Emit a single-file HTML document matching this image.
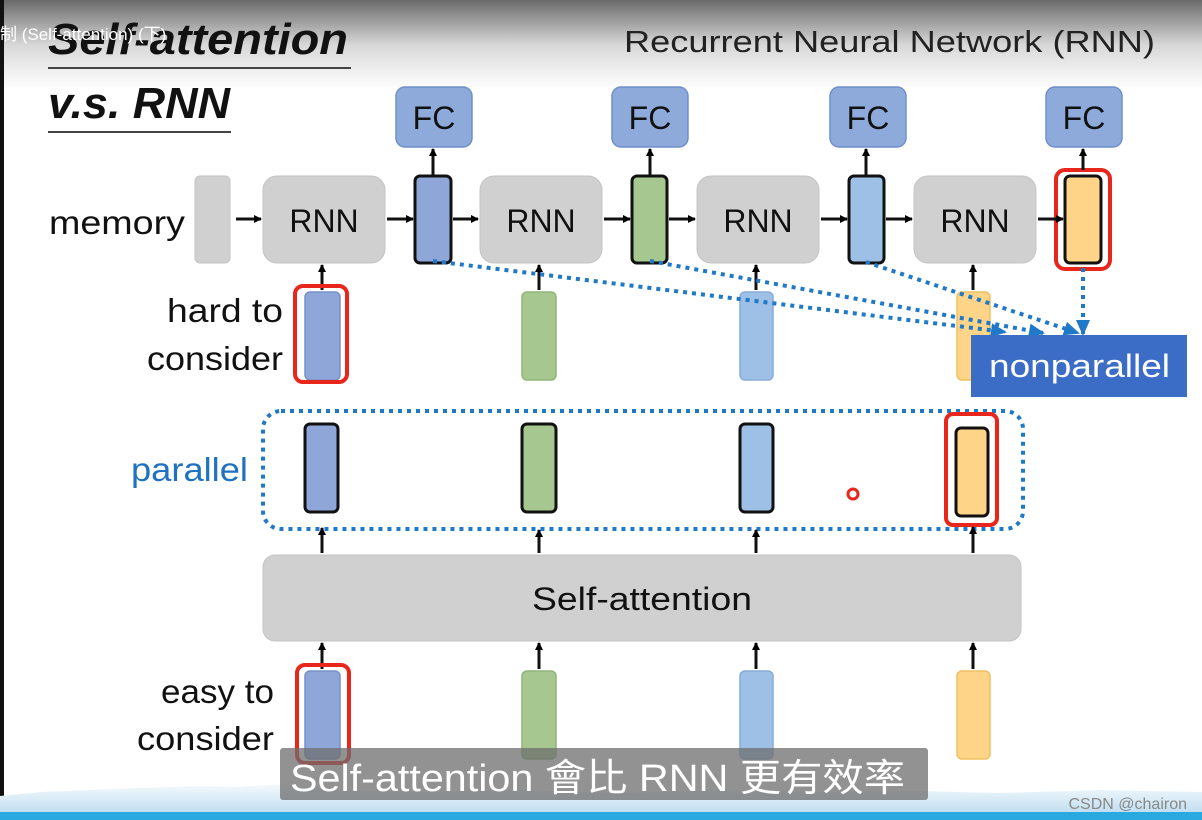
<!DOCTYPE html>
<html><head><meta charset="utf-8"><style>
html,body{margin:0;padding:0;width:1202px;height:820px;overflow:hidden;background:#fff}
text{font-family:"Liberation Sans","Noto Sans CJK TC",sans-serif}
</style></head><body>
<svg width="1202" height="820" viewBox="0 0 1202 820" xmlns="http://www.w3.org/2000/svg">
<defs>
<linearGradient id="tg" x1="0" y1="0" x2="0" y2="1"><stop offset="0" stop-color="#6a6a6a"/><stop offset="0.5" stop-color="#d8d8d8"/><stop offset="1" stop-color="#fff"/></linearGradient>
<linearGradient id="bg" x1="0" y1="0" x2="0" y2="1"><stop offset="0" stop-color="#f4fafd"/><stop offset="1" stop-color="#c2dff0"/></linearGradient>
<marker id="ar" markerWidth="8" markerHeight="8" refX="7" refY="4" orient="auto" markerUnits="userSpaceOnUse"><path d="M0,0 L8,4 L0,8 z" fill="#000"/></marker>
<marker id="ab" markerWidth="16" markerHeight="14" refX="14" refY="7" orient="auto" markerUnits="userSpaceOnUse"><path d="M0,0 L16,7 L0,14 z" fill="#1f78c8"/></marker>
</defs>
<rect x="0" y="0" width="1202" height="90" fill="url(#tg)"/>
<rect x="0" y="0" width="4" height="800" fill="#111"/>
<text x="48" y="54" font-size="44" font-weight="bold" font-style="italic" fill="#111" textLength="300" lengthAdjust="spacingAndGlyphs">Self-attention</text>
<text x="0" y="40" font-size="17" fill="#fff">制 (Self-attention) (下)</text>
<line x1="48" y1="68" x2="351" y2="68" stroke="#444" stroke-width="2"/>
<text x="48" y="118" font-size="44" font-weight="bold" font-style="italic" fill="#111" textLength="182" lengthAdjust="spacingAndGlyphs">v.s. RNN</text>
<line x1="48" y1="132" x2="231" y2="132" stroke="#444" stroke-width="2"/>
<text x="624" y="52" font-size="31" fill="#222" textLength="531" lengthAdjust="spacingAndGlyphs">Recurrent Neural Network (RNN)</text>
<text x="49" y="234" font-size="33" fill="#111" textLength="136" lengthAdjust="spacingAndGlyphs">memory</text>
<text x="167" y="322" font-size="33" fill="#111" textLength="116" lengthAdjust="spacingAndGlyphs">hard to</text>
<text x="147" y="370" font-size="33" fill="#111" textLength="136" lengthAdjust="spacingAndGlyphs">consider</text>
<text x="131" y="481" font-size="33" fill="#1f72c0" textLength="117" lengthAdjust="spacingAndGlyphs">parallel</text>
<text x="161" y="703" font-size="33" fill="#111" textLength="113" lengthAdjust="spacingAndGlyphs">easy to</text>
<text x="137" y="750" font-size="33" fill="#111" textLength="137" lengthAdjust="spacingAndGlyphs">consider</text>
<!-- FC -->
<g fill="#8eaadb" stroke="#6f8fcc" stroke-width="1.5">
<rect x="396" y="87" width="76" height="60" rx="9"/><rect x="612" y="87" width="76" height="60" rx="9"/>
<rect x="830" y="87" width="76" height="60" rx="9"/><rect x="1046" y="87" width="76" height="60" rx="9"/>
</g>
<g font-size="32" fill="#111" text-anchor="middle"><text x="434" y="129">FC</text><text x="650" y="129">FC</text><text x="868" y="129">FC</text><text x="1084" y="129">FC</text></g>
<!-- memory & RNN -->
<g fill="#d0d0d0" stroke="#c4c4c4">
<rect x="195" y="176" width="35" height="87" rx="5"/>
<rect x="263" y="176" width="122" height="87" rx="14"/><rect x="480" y="176" width="122" height="87" rx="14"/>
<rect x="697" y="176" width="122" height="87" rx="14"/><rect x="914" y="176" width="122" height="87" rx="14"/>
</g>
<g font-size="32" fill="#111" text-anchor="middle"><text x="324" y="232">RNN</text><text x="541" y="232">RNN</text><text x="758" y="232">RNN</text><text x="975" y="232">RNN</text></g>
<!-- hidden -->
<rect x="1056" y="170" width="54" height="99" rx="9" fill="none" stroke="#e8261c" stroke-width="4"/>
<g stroke="#111" stroke-width="3">
<rect x="415" y="176" width="36" height="87" rx="5" fill="#8ea6d8"/>
<rect x="632" y="176" width="35" height="87" rx="5" fill="#a6c890"/>
<rect x="849" y="176" width="35" height="87" rx="5" fill="#9fc0e6"/>
<rect x="1065" y="176" width="36" height="87" rx="5" fill="#fdd488"/>
</g>
<g stroke="#111" stroke-width="3" marker-end="url(#ar)">
<line x1="236" y1="219" x2="261" y2="219"/><line x1="387" y1="219" x2="413" y2="219"/><line x1="453" y1="219" x2="478" y2="219"/>
<line x1="604" y1="219" x2="630" y2="219"/><line x1="669" y1="219" x2="695" y2="219"/><line x1="821" y1="219" x2="847" y2="219"/>
<line x1="886" y1="219" x2="912" y2="219"/><line x1="1038" y1="219" x2="1063" y2="219"/>
<line x1="433" y1="175" x2="433" y2="149"/><line x1="650" y1="175" x2="650" y2="149"/><line x1="866" y1="175" x2="866" y2="149"/><line x1="1083" y1="170" x2="1083" y2="149"/>
<line x1="322" y1="290" x2="322" y2="265"/><line x1="539" y1="290" x2="539" y2="265"/><line x1="756" y1="290" x2="756" y2="265"/><line x1="973" y1="290" x2="973" y2="265"/>
</g>
<!-- inputs row 1 -->
<g stroke-width="1.5">
<rect x="305" y="292" width="35" height="88" rx="5" fill="#8ea6d8" stroke="#7890c8"/>
<rect x="522" y="292" width="34" height="88" rx="5" fill="#a6c890" stroke="#90b478"/>
<rect x="740" y="292" width="33" height="88" rx="5" fill="#9fc0e6" stroke="#88acd8"/>
<rect x="957" y="292" width="33" height="88" rx="5" fill="#fdd488" stroke="#f0c060"/>
</g>
<rect x="295" y="286" width="52" height="96" rx="8" fill="none" stroke="#e8261c" stroke-width="4"/>
<!-- dotted -->
<g stroke="#1f78c8" stroke-width="4" stroke-dasharray="4 5" fill="none" marker-end="url(#ab)">
<line x1="433" y1="261" x2="1005" y2="332"/><line x1="650" y1="261" x2="1043" y2="333"/>
<line x1="866" y1="262" x2="1078" y2="333"/><line x1="1083" y1="268" x2="1083" y2="334"/>
</g>
<rect x="971" y="335" width="216" height="62" fill="#3b6cc6"/>
<text x="989" y="377" font-size="32" fill="#fff" textLength="181" lengthAdjust="spacingAndGlyphs">nonparallel</text>
<!-- parallel -->
<rect x="263" y="411" width="760" height="118" rx="18" fill="none" stroke="#1f78c8" stroke-width="4" stroke-dasharray="4 5"/>
<rect x="946" y="414" width="51" height="111" rx="7" fill="none" stroke="#e8261c" stroke-width="4"/>
<g stroke="#111" stroke-width="3">
<rect x="305" y="424" width="33" height="88" rx="5" fill="#8ea6d8"/>
<rect x="522" y="424" width="34" height="88" rx="5" fill="#a6c890"/>
<rect x="740" y="424" width="33" height="88" rx="5" fill="#9fc0e6"/>
<rect x="956" y="428" width="32" height="88" rx="5" fill="#fdd488"/>
</g>
<circle cx="853" cy="494" r="5" fill="#fff" stroke="#e8261c" stroke-width="3"/>
<rect x="263" y="555" width="758" height="86" rx="12" fill="#d0d0d0" stroke="#c4c4c4"/>
<text x="532" y="610" font-size="32" fill="#111" textLength="220" lengthAdjust="spacingAndGlyphs">Self-attention</text>
<g stroke="#111" stroke-width="3" marker-end="url(#ar)">
<line x1="322" y1="553" x2="322" y2="528"/><line x1="539" y1="553" x2="539" y2="530"/><line x1="756" y1="553" x2="756" y2="530"/><line x1="973" y1="553" x2="973" y2="527"/>
<line x1="322" y1="669" x2="322" y2="643"/><line x1="539" y1="669" x2="539" y2="643"/><line x1="756" y1="669" x2="756" y2="643"/><line x1="973" y1="669" x2="973" y2="643"/>
</g>
<g stroke-width="1.5">
<rect x="305" y="671" width="35" height="88" rx="5" fill="#8ea6d8" stroke="#7890c8"/>
<rect x="522" y="671" width="34" height="88" rx="5" fill="#a6c890" stroke="#90b478"/>
<rect x="740" y="671" width="33" height="88" rx="5" fill="#9fc0e6" stroke="#88acd8"/>
<rect x="957" y="671" width="33" height="88" rx="5" fill="#fdd488" stroke="#f0c060"/>
</g>
<rect x="297" y="665" width="52" height="98" rx="8" fill="none" stroke="#e8261c" stroke-width="4"/>
<!-- bottom -->
<path d="M0,796 L40,792 L90,790 L140,788 L200,786 L240,787 L280,784 L330,790 L420,792 L520,790 L620,793 L720,790 L820,792 L920,791 L1000,793 L1100,790 L1202,792 L1202,812 L0,812 Z" fill="url(#bg)"/>
<rect x="0" y="812" width="1202" height="8" fill="#2aa8e0"/>
<rect x="280" y="748" width="648" height="52" rx="3" fill="rgba(110,110,110,0.75)"/>
<text x="290" y="791" font-size="38" fill="#fff" textLength="615" lengthAdjust="spacingAndGlyphs">Self-attention 會比 RNN 更有效率</text>
<text x="1187" y="809" font-size="16" fill="#888" text-anchor="end">CSDN @chairon</text>
</svg>
</body></html>
